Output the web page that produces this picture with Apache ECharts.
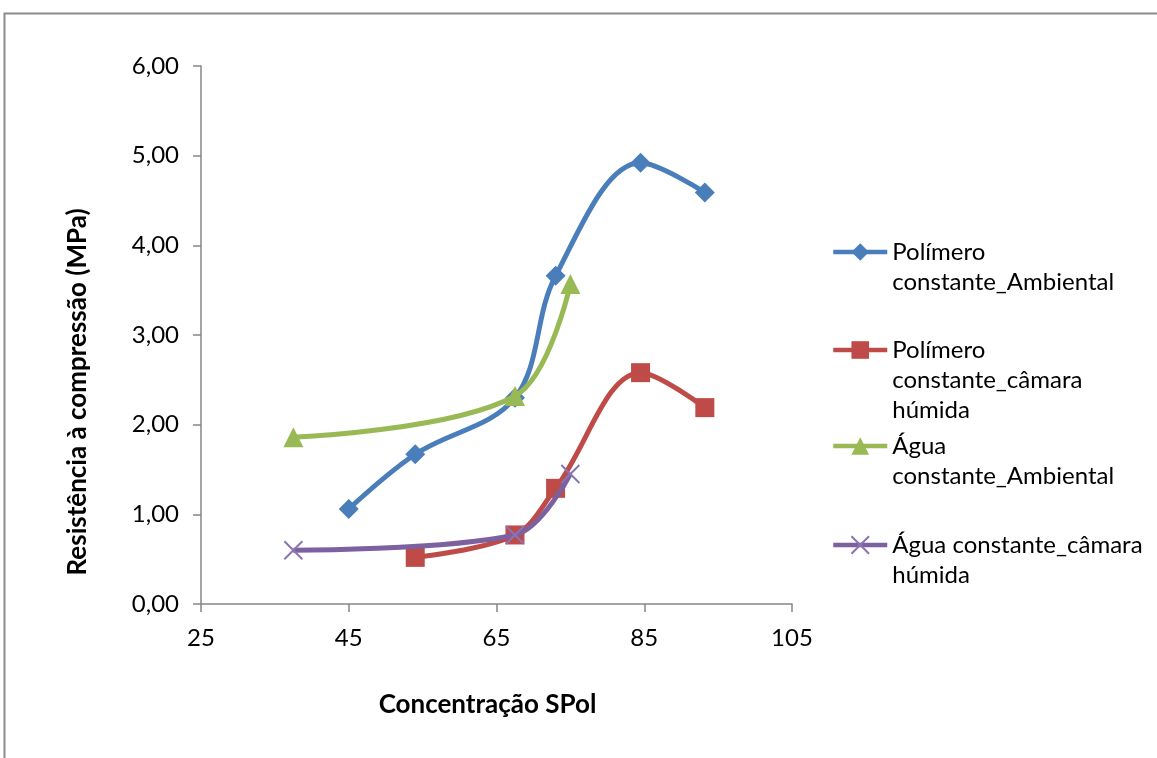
<!DOCTYPE html>
<html>
<head>
<meta charset="utf-8">
<script src="https://cdn.jsdelivr.net/npm/echarts@6/dist/echarts.min.js"></script>
<style>
html,body{margin:0;padding:0;background:#fff;}
#c{width:1157px;height:758px;}
</style>
</head>
<body>
<div id="c"></div>
<script>
// ---- data ----
const seriesNames = [
  'Polímero constante_Ambiental',
  'Polímero constante_câmara húmida',
  'Água constante_Ambiental',
  'Água constante_câmara húmida'
];
const legendLabels = [
  'Polímero\nconstante_Ambiental',
  'Polímero\nconstante_câmara\nhúmida',
  'Água\nconstante_Ambiental',
  'Água constante_câmara\nhúmida'
];
const polAmbX = [45, 54, 67.5, 73, 84.5, 93.2];
const polAmbY = [1.06, 1.67, 2.30, 3.66, 4.92, 4.59];
const polCamX = [54, 67.5, 73, 84.5, 93.2];
const polCamY = [0.52, 0.77, 1.29, 2.58, 2.19];
const aguaAmbX = [37.5, 67.5, 75];
const aguaAmbY = [1.86, 2.32, 3.57];
const aguaCamX = [37.5, 67.5, 75];
const aguaCamY = [0.60, 0.77, 1.45];
const xTicks = [25, 45, 65, 85, 105];
const yTicks = [0, 1, 2, 3, 4, 5, 6];

const pair = (xs, ys) => xs.map((x, i) => [x, ys[i]]);
const FONT = 'Lato';
const colors = ['#4A7EBB', '#BE4B48', '#98B954', '#7D60A0'];
const symbols = ['diamond', 'rect', 'triangle', 'path://M0,0L10,10M10,0L0,10'];
const symSizes = [20, 19, 20, 18];
const datasets = [pair(polAmbX, polAmbY), pair(polCamX, polCamY), pair(aguaAmbX, aguaAmbY), pair(aguaCamX, aguaCamY)];
const legendIconY = [252, 350, 446, 545];

const chart = echarts.init(document.getElementById('c'));
const option = {
  animation: false,
  backgroundColor: '#fff',
  graphic: [{
    type: 'rect', z: -1, silent: true,
    shape: {x: 4.5, y: 13.5, width: 1300, height: 900},
    style: {fill: 'none', stroke: '#8c8c8c', lineWidth: 2}
  }],
  grid: {left: 201, right: 365, top: 66, bottom: 154, containLabel: false},
  legend: seriesNames.map((n, i) => {
    const lines = legendLabels[i].split('\n').length;
    const pad = '\n'.repeat(lines - 1);
    return {
      data: [n],
      left: 831,
      top: legendIconY[i] - 15 * (2 * lines - 1),
      padding: 0,
      itemWidth: 54,
      itemHeight: 22,
      itemGap: 0,
      lineStyle: {width: 4.5},
      formatter: () => pad + legendLabels[i],
      textStyle: {fontFamily: FONT, fontSize: 24, color: '#000', lineHeight: 30}
    };
  }),
  xAxis: {
    type: 'value', min: 25, max: 105,
    name: 'Concentração SPol', nameLocation: 'middle', nameGap: 88,
    nameTextStyle: {fontFamily: FONT, fontSize: 26, fontWeight: 'bold', color: '#000', padding: [0, 18, 0, 0]},
    axisLine: {show: true, lineStyle: {color: '#868686', width: 1.5}},
    axisTick: {show: true, length: 8, lineStyle: {color: '#868686', width: 1.5}, customValues: xTicks},
    axisLabel: {fontFamily: FONT, fontSize: 24, color: '#000', margin: 22, customValues: xTicks},
    splitLine: {show: false}
  },
  yAxis: {
    type: 'value', min: 0, max: 6, interval: 1,
    name: 'Resistência à compressão (MPa)', nameLocation: 'middle', nameGap: 110,
    nameTextStyle: {fontFamily: FONT, fontSize: 26, fontWeight: 'bold', color: '#000', padding: [0, 114, 0, 0]},
    axisLine: {show: true, lineStyle: {color: '#868686', width: 1.5}},
    axisTick: {show: true, length: 8, lineStyle: {color: '#868686', width: 1.5}},
    axisLabel: {fontFamily: FONT, fontSize: 24, color: '#000', margin: 22,
      formatter: v => v.toFixed(2).replace('.', ',')},
    splitLine: {show: false}
  },
  series: seriesNames.map((n, i) => ({
    name: n,
    type: 'line',
    data: datasets[i],
    smooth: 0.35,
    symbol: symbols[i],
    symbolSize: symSizes[i],
    showAllSymbol: true,
    lineStyle: {color: colors[i], width: 5},
    itemStyle: i === 3
      ? {color: '#9C88BE', borderColor: '#8B74B0', borderWidth: 2}
      : {color: colors[i], borderColor: colors[i], borderWidth: 0},
    z: [3, 2, 4, 5][i]
  }))
};
chart.setOption(option);
</script>
</body>
</html>
